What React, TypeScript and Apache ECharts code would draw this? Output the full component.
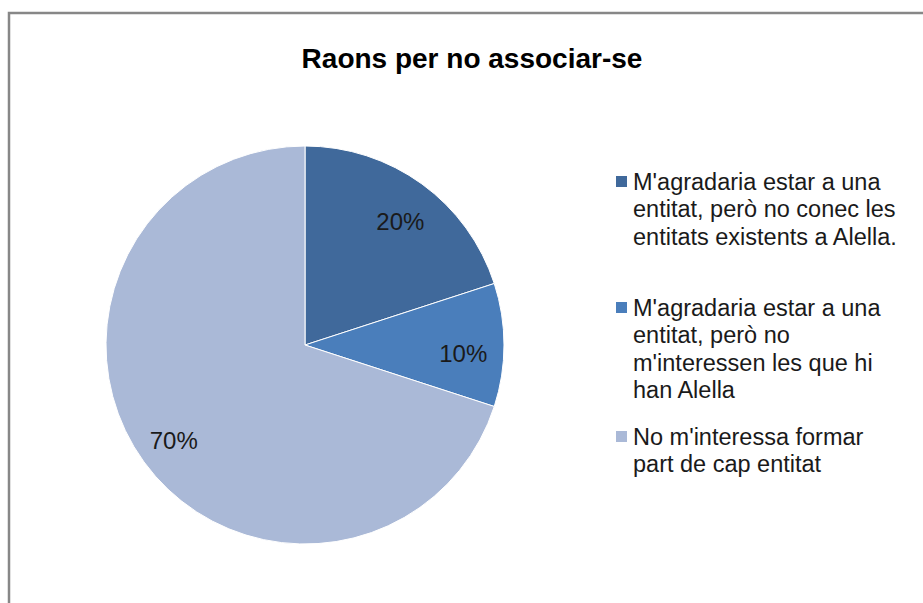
import React, { useEffect, useRef } from "react";
import * as echarts from "echarts";

const title = "Raons per no associar-se";
const categories = [
  "M'agradaria estar a una\nentitat, però no conec les\nentitats existents a Alella.",
  "M'agradaria estar a una\nentitat, però no\nm'interessen les que hi\nhan Alella",
  "No m'interessa formar\npart de cap entitat",
];
const values = [20, 10, 70];
const colors = ["#40699B", "#4A7EBB", "#AAB9D7"];
const legendTops = [168, 294, 423];
const labelShifts = [
  [0, 8],
  [-4, 8],
  [0, 0],
];

const FONT = "'Liberation Sans', Arial, sans-serif";

export default function App() {
  const ref = useRef<HTMLDivElement>(null);
  useEffect(() => {
    if (!ref.current) return;
    const chart = echarts.init(ref.current, undefined, { renderer: "svg" });
    const data = categories.map((name, i) => ({
      name,
      value: values[i],
      itemStyle: { color: colors[i] },
    }));
    const R = 199;
    const legendGraphics: any[] = [];
    categories.forEach((name, i) => {
      legendGraphics.push({
        type: "rect",
        shape: { x: 616, y: legendTops[i] + 8, width: 11, height: 11 },
        style: { fill: colors[i] },
      });
      legendGraphics.push({
        type: "text",
        x: 633,
        y: legendTops[i],
        style: {
          text: name,
          font: `23.5px ${FONT}`,
          fill: "#1a1a1a",
          lineHeight: 27.5,
          verticalAlign: "top",
        },
      });
    });
    chart.setOption({
      animation: false,
      backgroundColor: "#ffffff",
      graphic: [
        {
          type: "rect",
          shape: { x: 9, y: 13, width: 1200, height: 1200 },
          style: { fill: "none", stroke: "#878787", lineWidth: 2.5 },
          z: 10,
        },
        {
          type: "text",
          x: 472,
          y: 58,
          style: {
            text: title,
            font: `bold 28px ${FONT}`,
            fill: "#000000",
            align: "center",
            verticalAlign: "middle",
          },
        },
        ...legendGraphics,
      ],
      series: [
        {
          type: "pie",
          center: [305, 345],
          radius: [0, R],
          startAngle: 90,
          clockwise: true,
          data,
          label: { show: false },
          labelLine: { show: false },
          itemStyle: { borderColor: "#ffffff", borderWidth: 1 },
          silent: true,
        },
        {
          type: "pie",
          center: [305, 345],
          radius: [R * 0.6, R],
          startAngle: 90,
          clockwise: true,
          data: categories.map((name, i) => ({ name, value: values[i] })),
          itemStyle: { color: "transparent", borderWidth: 0 },
          label: {
            show: true,
            position: "inside",
            formatter: (p: any) => `${p.value}%`,
            fontFamily: FONT,
            fontSize: 24,
            color: "#1a1a1a",
          },
          labelLayout: (p: any) => ({
            dx: labelShifts[p.dataIndex][0],
            dy: labelShifts[p.dataIndex][1],
          }),
          labelLine: { show: false },
          silent: true,
        },
      ],
    });
    return () => chart.dispose();
  }, []);
  return (
    <div
      ref={ref}
      style={{ position: "fixed", left: 0, top: 0, width: 923, height: 603 }}
    />
  );
}
